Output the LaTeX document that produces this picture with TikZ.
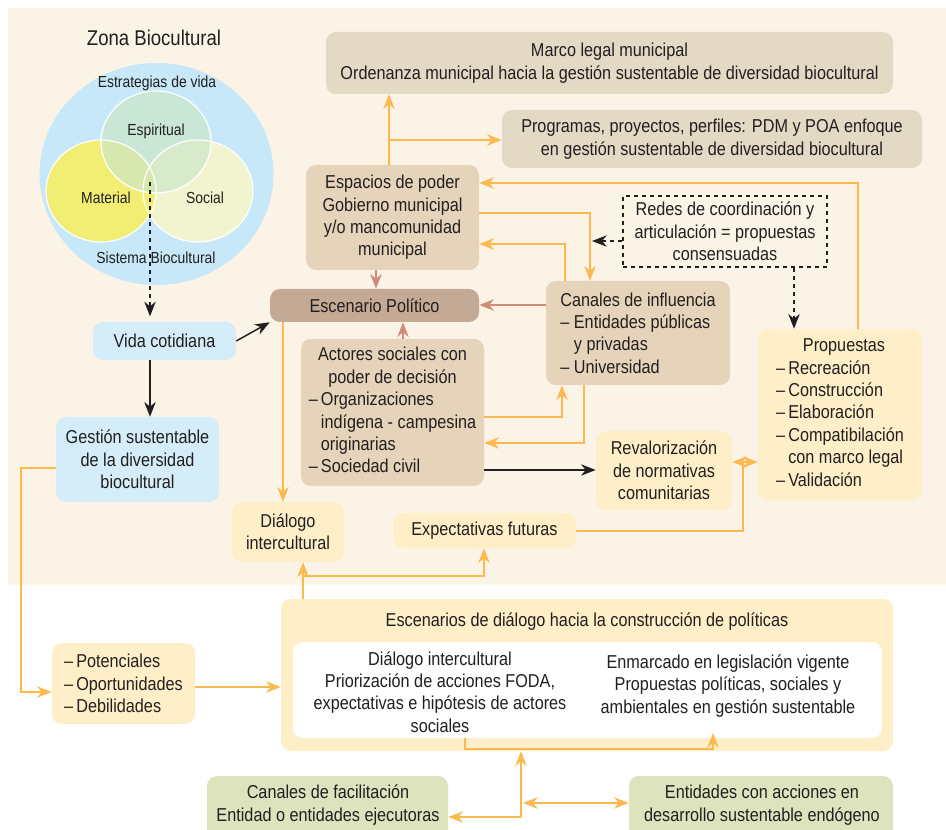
\documentclass[tikz,border=0pt]{standalone}
\usepackage{fontspec}
\setmainfont{Liberation Sans}[FakeStretch=0.87]
\usetikzlibrary{arrows.meta}
\definecolor{cream}{HTML}{FCF3E7}
\definecolor{ink}{HTML}{231F20}
\definecolor{tanbox}{HTML}{E5D3BA}
\definecolor{greybox}{HTML}{E4D9C5}
\definecolor{darktan}{HTML}{C4AA94}
\definecolor{paleyellow}{HTML}{FEEFC8}
\definecolor{paleblue}{HTML}{D5ECF9}
\definecolor{palegreen}{HTML}{DDE3BD}
\definecolor{orangeln}{HTML}{FDB94E}
\definecolor{brownln}{HTML}{CD8C78}
\definecolor{bigblue}{HTML}{C6E8F8}
\definecolor{material}{HTML}{F2EE73}
\definecolor{social}{HTML}{F1F4CF}
\definecolor{espiritual}{RGB}{204,230,200}
\begin{document}
\begin{tikzpicture}[x=0.75pt,y=-0.75pt,
  txt/.style={text=ink, font=\fontsize{14}{16.8}\selectfont},
  small/.style={text=ink, font=\fontsize{12}{14.4}\selectfont},
  box/.style={txt, rounded corners=7.5pt, inner sep=0pt, align=center},
  sz/.style 2 args={minimum width=#1*0.75pt, minimum height=#2*0.75pt},
  tanb/.style={box, fill=tanbox},
  greyb/.style={box, fill=greybox},
  yelb/.style={box, fill=paleyellow},
  blueb/.style={box, fill=paleblue},
  greenb/.style={box, fill=palegreen},
  tip/.style={-{Stealth[length=11pt,width=8.5pt,inset=3.5pt]}},
  orangeline/.style={draw=orangeln, line width=1.5pt},
  orangearrow/.style={orangeline, tip},
  orangeboth/.style={orangeline, {Stealth[length=11pt,width=8.5pt,inset=3.5pt]}-{Stealth[length=11pt,width=8.5pt,inset=3.5pt]}},
  blackarrow/.style={draw=ink, line width=1.1pt, tip},
  dashedarrow/.style={draw=ink, line width=1.1pt, dash pattern=on 3pt off 3pt, tip},
  brownarrow/.style={draw=brownln, line width=1.5pt, tip},
]
\useasboundingbox (0,0) rectangle (946,830);
\clip (0,0) rectangle (946,830);
\fill[white] (0,0) rectangle (946,830);
\fill[cream] (8,8) rectangle (946,585);

% Venn diagram of the biocultural zone
\node[txt, font=\fontsize{16}{19}\selectfont] (zona) at (154,38) {Zona Biocultural};
\fill[bigblue] (156.5,174) ellipse [x radius=117, y radius=111];
\fill[social] (198,191) ellipse [x radius=55, y radius=51];
\fill[material] (101,191) ellipse [x radius=55, y radius=51];
\fill[espiritual, opacity=0.7] (156,142) ellipse [x radius=55, y radius=51];
\draw[white, line width=0.9pt] (198,191) ellipse [x radius=55, y radius=51];
\draw[white, line width=0.9pt] (101,191) ellipse [x radius=55, y radius=51];
\draw[white, line width=0.9pt] (156,142) ellipse [x radius=55, y radius=51];
\node[small] (estr) at (157,83) {Estrategias de vida};
\node[small] (espl) at (156,131) {Espiritual};
\node[small] (matl) at (106,198) {Material};
\node[small] (socl) at (205,198) {Social};
\node[small] (sist) at (156,258) {Sistema Biocultural};
\coordinate (vennbot) at (150,182);

% boxes
\node[greyb, sz={567}{62}] (marco) at (609.5,63) {Marco legal municipal\\Ordenanza municipal hacia la gestión sustentable de diversidad biocultural};
\node[greyb, sz={420}{58}] (prog) at (712,139) {Programas, proyectos, perfiles: PDM y POA enfoque\\en gestión sustentable de diversidad biocultural};
\node[tanb, sz={173}{105}] (esp) at (392.5,217.5) {Espacios de poder\\Gobierno municipal\\y/o mancomunidad\\municipal};
\node[box, fill=darktan, sz={209}{33}] (escpol) at (374.5,305.5) {Escenario Político};
\node[box, sz={204}{71}, draw=ink, line width=1.1pt, dash pattern=on 3pt off 3pt, rounded corners=0pt] (redes) at (725,231.5) {Redes de coordinación y\\articulación = propuestas\\consensuadas};
\node[tanb, sz={184}{104}, align=left] (canales) at (638,333) {Canales de influencia\\–~Entidades públicas\\\phantom{–~}y privadas\\–~Universidad};
\node[yelb, sz={164}{171}] (prop) at (840,414.5) {\begin{tabular}{@{}l@{}}\multicolumn{1}{@{}c@{}}{\hspace*{6pt}Propuestas}\\–\,Recreación\\–\,Construcción\\–\,Elaboración\\–\,Compatibilación\\\phantom{–\,}con marco legal\\–\,Validación\end{tabular}};
\node[blueb, sz={143}{38}] (vida) at (164.5,341) {Vida cotidiana};
\node[blueb, sz={163}{85}] (gest) at (137.5,459.5) {Gestión sustentable\\de la diversidad\\biocultural};
\node[tanb, sz={183}{147}] (actores) at (392.5,412.5) {\begin{tabular}{@{}l@{}}\multicolumn{1}{@{}c@{}}{Actores sociales con}\\\multicolumn{1}{@{}c@{}}{poder de decisión}\\–\,Organizaciones\\\phantom{–\,}indígena - campesina\\\phantom{–\,}originarias\\–\,Sociedad civil\end{tabular}};
\node[yelb, sz={136}{79}] (reval) at (664,470.5) {Revalorización\\de normativas\\comunitarias};
\node[yelb, sz={112}{60}] (dialogo) at (288,532) {Diálogo\\intercultural};
\node[yelb, sz={183}{35}] (expect) at (484.5,530.5) {Expectativas futuras};
\node[yelb, sz={612}{152}] (escdial) at (587,675) {};
\node[txt] (escdialT) at (587,622) {Escenarios de diálogo hacia la construcción de políticas};
\node[box, fill=white, sz={589}{96}] (inner) at (587.5,690) {};
\node[txt, align=center] (innerL) at (440,692) {Diálogo intercultural\\Priorización de acciones FODA,\\expectativas e hipótesis de actores\\sociales};
\node[txt, align=center] (innerR) at (728,686) {Enmarcado en legislación vigente\\Propuestas políticas, sociales y\\ambientales en gestión sustentable};
\node[yelb, sz={143}{81}, align=left] (pot) at (123.5,683.5) {–\,Potenciales\\–\,Oportunidades\\–\,Debilidades};
\node[greenb, sz={241}{84}] (canfac) at (327.5,818) {};
\node[txt, align=center] (canfacT) at (328,805) {Canales de facilitación\\Entidad o entidades ejecutoras};
\node[greenb, sz={264}{84}] (entid) at (761,818) {};
\node[txt, align=center] (entidT) at (762,805) {Entidades con acciones en\\desarrollo sustentable endógeno};

% connectors: Venn and daily life
\draw[dashedarrow, shorten >=4pt] (vennbot) -- (vida.north -| vennbot);
\draw[blackarrow] (vida.south -| vennbot) -- (gest.north -| vennbot);
\draw[blackarrow] (vida.east) -- (escpol.south west);

% connectors: municipal level
\coordinate (j1) at (389,140);
\draw[orangearrow] (esp.north -| j1) -- (marco.south -| j1);
\draw[orangearrow] (j1) -- (prog.west |- j1);
\coordinate (k1) at (858,183);
\draw[orangearrow] (prop.north -| k1) -- (k1) -- (esp.east |- k1);
\coordinate (k2) at (590,213);
\draw[orangearrow] (esp.east |- k2) -- (k2) -- (canales.north -| k2);
\coordinate (k3) at (565,244);
\draw[orangearrow] (canales.north -| k3) -- (k3) -- (esp.east |- k3);
\coordinate (k4) at (592,241);
\draw[dashedarrow] (redes.west |- k4) -- (k4);
\coordinate (k5) at (794,267);
\draw[dashedarrow] (redes.south -| k5) -- (prop.north -| k5);

% connectors into the political scene
\coordinate (b1) at (376,300);
\coordinate (b2) at (403,300);
\coordinate (b3) at (500,305);
\draw[brownarrow] (esp.south -| b1) -- (escpol.north -| b1);
\draw[brownarrow] (actores.north -| b2) -- (escpol.south -| b2);
\draw[brownarrow] (canales.west |- b3) -- (escpol.east |- b3);

% social actors and influence channels
\coordinate (k6) at (562,417);
\draw[orangearrow] (actores.east |- k6) -- (k6) -- (canales.south -| k6);
\coordinate (k7) at (584,443);
\draw[orangearrow] (canales.south -| k7) -- (k7) -- (actores.east |- k7);
\coordinate (k8) at (540,470);
\draw[blackarrow] (actores.east |- k8) -- (reval.west |- k8);
\coordinate (k9) at (283,400);
\draw[orangearrow] (escpol.south -| k9) -- (dialogo.north -| k9);

% future expectations and proposals
\coordinate (k10) at (743,531);
\coordinate (k11) at (743,462);
\draw[orangeline] (expect.east |- k10) -- (k10) -- (k11);
\draw[orangeboth] (reval.east |- k11) -- (prop.west |- k11);

% dialogue scenarios
\coordinate (k12) at (303,576);
\coordinate (k13) at (484,576);
\draw[orangearrow] (escdial.north -| k12) -- (dialogo.south -| k12);
\draw[orangearrow] (k12) -- (k13) -- (expect.south -| k13);
\coordinate (k14) at (21,468);
\coordinate (k15) at (21,692);
\draw[orangearrow] (gest.west |- k14) -- (k14) -- (k15) -- (pot.west |- k15);
\coordinate (k16) at (240,687);
\draw[orangearrow] (pot.east |- k16) -- (escdial.west |- k16);
\coordinate (k17) at (465,749);
\coordinate (k18) at (713,749);
\coordinate (k19) at (713,733);
\draw[orangearrow] (inner.south -| k17) -- (k17) -- (k18) -- (k19);

% facilitation channels and entities
\coordinate (k20) at (521,817);
\draw[orangearrow] (k20) -- (escdial.south -| k20);
\draw[orangearrow] (k20) -- (canfac.east |- k20);
\coordinate (k21) at (523,803);
\draw[orangeboth] (k21) -- (entid.west |- k21);
\end{tikzpicture}
\end{document}
